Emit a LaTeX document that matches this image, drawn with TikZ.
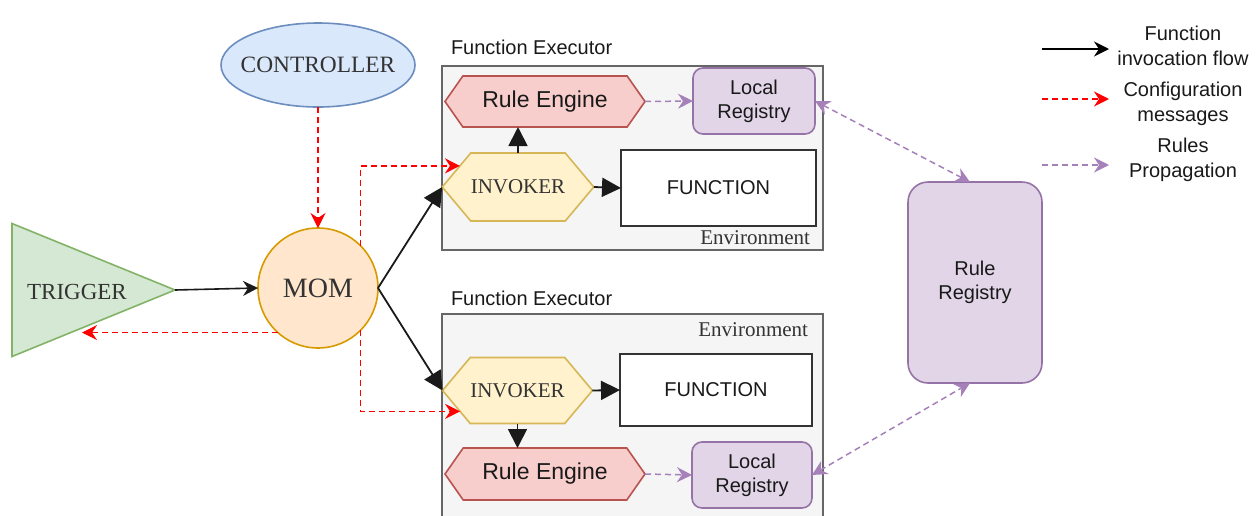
\documentclass[tikz,border=0pt]{standalone}
\usepackage{fontspec}
\setmainfont{Liberation Sans}
\newfontfamily\serifft{Liberation Serif}
\usetikzlibrary{arrows.meta,shapes.geometric,shapes.symbols,calc}

\definecolor{ctrlfill}{HTML}{DAE8FC}\definecolor{ctrlline}{HTML}{6C8EBF}
\definecolor{trigfill}{HTML}{D5E8D4}\definecolor{trigline}{HTML}{82B366}
\definecolor{momfill}{HTML}{FFE6CC}\definecolor{momline}{HTML}{D79B00}
\definecolor{invfill}{HTML}{FFF2CC}\definecolor{invline}{HTML}{D6B656}
\definecolor{refill}{HTML}{F8CECC}\definecolor{reline}{HTML}{B85450}
\definecolor{regfill}{HTML}{E1D5E7}\definecolor{regline}{HTML}{9673A6}
\definecolor{envfill}{HTML}{F5F5F5}\definecolor{envline}{HTML}{666666}
\definecolor{propline}{HTML}{A680B8}
\definecolor{flowline}{HTML}{1A1A1A}

\tikzset{
  cls/.tip={Stealth[length=7.5pt,width=7.5pt,inset=2.5pt]},
  blk/.tip={Triangle[length=9.5pt,width=9.5pt]}
}

\begin{document}
\begin{tikzpicture}[x=0.5pt,y=-0.5pt,
  every node/.style={inner sep=0pt,outer sep=0pt,text=black!90},
  sans/.style={font=\fontsize{10}{12}\selectfont},
  serif/.style={font=\serifft\fontsize{#1}{13}\selectfont,text=black!80},
  envbox/.style={draw=envline,fill=envfill,line width=0.9pt,minimum width=190.5pt},
  hexa/.style={signal,signal to=west and east,line width=0.8pt},
  regbox/.style={draw=regline,fill=regfill,rounded corners=5pt,line width=0.8pt,
    align=center,font=\fontsize{10}{12}\selectfont},
  funbox/.style={draw=black!80,fill=white,line width=1.2pt,font=\fontsize{10}{12}\selectfont},
  flow/.style={draw=flowline,line width=0.9pt,-blk},
  flowthin/.style={draw=flowline,line width=0.8pt,-cls},
  cfg/.style={draw=red,line width=0.75pt,dash pattern=on 3pt off 2pt,-cls},
  prop/.style={draw=propline,line width=0.75pt,dash pattern=on 3pt off 2pt,cls-cls},
  propone/.style={draw=propline,line width=0.75pt,dash pattern=on 3pt off 2pt,-cls}
]
\useasboundingbox (0,0) rectangle (1260,515);
\clip (0,0) rectangle (1260,515);

% left part
\node[ellipse,draw=ctrlline,fill=ctrlfill,line width=0.8pt,minimum width=97pt,
  minimum height=42pt,inner xsep=-4.5pt,serif=11.7] (ctrl) at (318,65) {CONTROLLER};
\node[isosceles triangle,isosceles triangle stretches,draw=trigline,fill=trigfill,
  line width=0.8pt,minimum width=66.5pt,minimum height=81.5pt,anchor=apex] (trig) at (175,290) {};
\node[serif=11.5] (trigtxt) at (77,292) {TRIGGER};
\node[circle,draw=momline,fill=momfill,line width=0.8pt,minimum size=60pt,
  serif=14] (mom) at (318,288) {MOM};
\coordinate (trigin) at (82,333);

% executors
\node[sans,anchor=west] (fe1) at (451,47) {Function Executor};
\node[envbox,minimum height=92pt] (env1) at (632.5,158) {};
\node[serif=10.5,anchor=east] (envtxt1) at (810,238) {Environment};
\node[hexa,draw=reline,fill=refill,minimum width=100pt,minimum height=25.5pt,
  signal pointer angle=110,font=\fontsize{11.5}{13}\selectfont] (re1) at (545,101.5) {Rule Engine};
\node[regbox,minimum width=61pt,minimum height=33pt] (lr1) at (754,101) {Local\\Registry};
\node[hexa,draw=invline,fill=invfill,minimum width=73pt,minimum height=34pt,
  signal pointer angle=100,serif=10.5] (inv1) at (518,187) {INVOKER};
\node[funbox,minimum width=97.5pt,minimum height=38pt] (fun1) at (718.5,188) {FUNCTION};

\node[sans,anchor=west] (fe2) at (451,298) {Function Executor};
\node[envbox,minimum height=108pt] (env2) at (632.5,422) {};
\node[serif=10.5,anchor=east] (envtxt2) at (808,330) {Environment};
\node[hexa,draw=invline,fill=invfill,minimum width=73pt,minimum height=33pt,
  signal pointer angle=100,serif=10.5] (inv2) at (517.5,390.5) {INVOKER};
\node[funbox,minimum width=96pt,minimum height=36pt] (fun2) at (716,390) {FUNCTION};
\node[hexa,draw=reline,fill=refill,minimum width=100pt,minimum height=26pt,
  signal pointer angle=110,font=\fontsize{11.5}{13}\selectfont] (re2) at (545,474) {Rule Engine};
\node[regbox,minimum width=60pt,minimum height=33pt] (lr2) at (752,475) {Local\\Registry};

\node[regbox,rounded corners=10pt,minimum width=67pt,minimum height=100.5pt] (rr) at (975,282.5) {Rule\\Registry};

% legend
\coordinate (lg1a) at (1042,49); \coordinate (lg1b) at (1109,49);
\coordinate (lg2a) at (1042,99); \coordinate (lg2b) at (1109,99);
\coordinate (lg3a) at (1042,165); \coordinate (lg3b) at (1109,165);
\node[align=center,font=\fontsize{10}{12.5}\selectfont] (lgt1) at (1183,45.5) {Function\\invocation flow};
\node[align=center,font=\fontsize{10}{12.5}\selectfont] (lgt2) at (1183,103.5) {Configuration\\messages};
\node[align=center,font=\fontsize{10}{12.5}\selectfont] (lgt3) at (1183,160) {Rules\\Propagation};

% connectors
\draw[flowthin] (trig.apex) -- (mom.west);
\draw[cfg] (ctrl.south) -- (mom.north);
\draw[cfg] (mom.228) -- (mom.228 -| trigin);
\draw[cfg] (mom.45) |- (inv1.160);
\draw[cfg] (mom.-45) |- (inv2.200);
\draw[flow] (mom.east) -- (inv1.west);
\draw[flow] (mom.east) -- (inv2.west);

\draw[flow] (inv1.north) -- (inv1.north |- re1.south);
\draw[flow] (inv1.east) -- (fun1.west);
\draw[propone] (re1.east) -- (lr1.west);
\draw[flow] (inv2.south) -- (inv2.south |- re2.north);
\draw[flow] (inv2.east) -- (fun2.west);
\draw[propone] (re2.east) -- (lr2.west);

\draw[prop] (lr1.east) -- ([xshift=-2.5pt]rr.north);
\draw[prop] (lr2.east) -- ([xshift=-2.5pt]rr.south);

\draw[flowthin,draw=black] (lg1a) -- (lg1b);
\draw[cfg] (lg2a) -- (lg2b);
\draw[propone] (lg3a) -- (lg3b);
\end{tikzpicture}
\end{document}
